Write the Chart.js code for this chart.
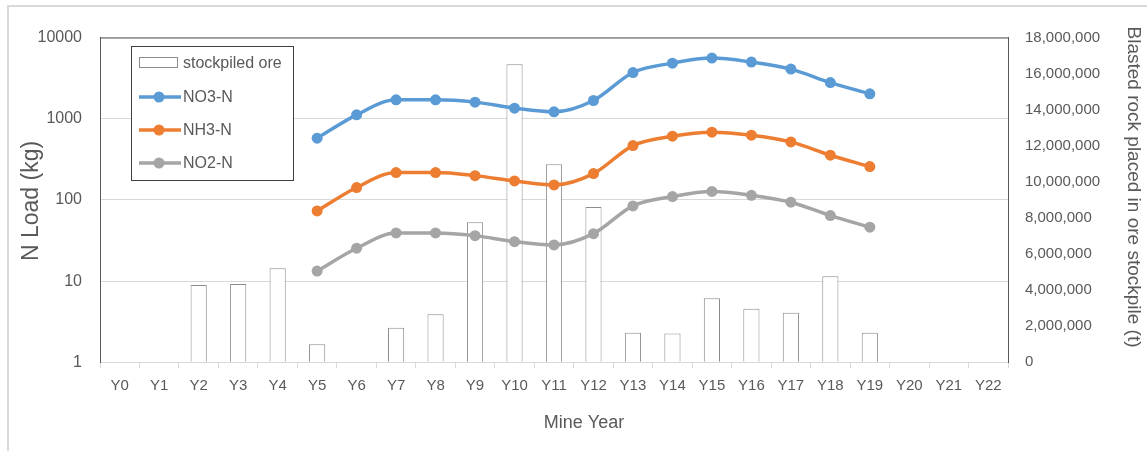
<!DOCTYPE html>
<html>
<head>
<meta charset="utf-8">
<script src="https://cdn.jsdelivr.net/npm/chart.js@4.4.1/dist/chart.umd.min.js"></script>
<style>
  html, body { margin: 0; padding: 0; background: #ffffff; }
  canvas { display: block; }
</style>
</head>
<body>
<canvas id="chart" width="1147" height="451"></canvas>
<script>
// Mine years along the x axis
const years = ['Y0','Y1','Y2','Y3','Y4','Y5','Y6','Y7','Y8','Y9','Y10','Y11',
               'Y12','Y13','Y14','Y15','Y16','Y17','Y18','Y19','Y20','Y21','Y22'];

// Blasted rock placed in the ore stockpile (t), right axis
const stockpiledOre = [null, null, 4290000, 4340000, 5210000, 1000000, null, 1920000,
                       2660000, 7760000, 16520000, 10980000, 8600000, 1640000, 1590000,
                       3550000, 2970000, 2750000, 4770000, 1640000, null, null, null];

// Nitrogen loads (kg), left log axis
const no3N = [null, null, null, null, null, 576, 1115, 1708, 1708, 1600, 1349, 1214,
              1675, 3705, 4835, 5573, 4977, 4079, 2786, 2025, null, null, null];
const nh3N = [null, null, null, null, null, 73.2, 142, 217, 217, 199, 171, 153,
              211, 467, 609, 683, 627, 518, 355, 257, null, null, null];
const no2N = [null, null, null, null, null, 13.3, 25.4, 39.2, 39.2, 36.3, 30.6, 27.9,
              38.4, 84.3, 110, 127, 114, 93.7, 64.1, 46.1, null, null, null];

// Tick values
const loadTicks = [1, 10, 100, 1000, 10000];
const tonnageMax = 18000000;
const tonnageStep = 2000000;

const FONT = "'Liberation Sans', Arial, sans-serif";
const TEXT = '#595959';
const GRID = '#d9d9d9';
const FRAME = '#595959';

// Page border, plot frame, axis titles and the boxed legend
const decorations = {
  id: 'decorations',
  beforeDraw(chart) {
    const ctx = chart.ctx;
    ctx.save();
    ctx.fillStyle = '#ffffff';
    ctx.fillRect(0, 0, chart.width, chart.height);
    ctx.fillStyle = GRID;
    ctx.fillRect(7, 5, chart.width - 7, 2);
    ctx.fillRect(7, 5, 2, chart.height - 5);
    ctx.restore();
  },
  afterDraw(chart) {
    const ctx = chart.ctx;
    const a = chart.chartArea;
    ctx.save();
    // top edge of the plot frame
    ctx.strokeStyle = FRAME;
    ctx.lineWidth = 1;
    ctx.beginPath();
    ctx.moveTo(a.left, a.top + 0.5);
    ctx.lineTo(a.right, a.top + 0.5);
    ctx.stroke();

    // axis titles
    ctx.fillStyle = TEXT;
    ctx.textAlign = 'center';
    ctx.textBaseline = 'middle';
    ctx.font = '18px ' + FONT;
    ctx.fillText('Mine Year', 584, 423);

    ctx.save();
    ctx.translate(32, 201);
    ctx.rotate(-Math.PI / 2);
    ctx.font = '23px ' + FONT;
    ctx.fillText('N Load (kg)', 0, 0);
    ctx.restore();

    ctx.save();
    ctx.translate(1133, 187);
    ctx.rotate(Math.PI / 2);
    ctx.font = '19px ' + FONT;
    ctx.fillText('Blasted rock placed in ore stockpile (t)', 0, 0);
    ctx.restore();

    // legend box
    const bx = 131.5, by = 46.5, bw = 162, bh = 134;
    ctx.fillStyle = '#ffffff';
    ctx.fillRect(bx, by, bw, bh);
    ctx.strokeStyle = '#404040';
    ctx.lineWidth = 1;
    ctx.strokeRect(bx, by, bw, bh);

    const rows = [63, 97, 130, 163];
    ctx.font = '16px ' + FONT;
    ctx.textAlign = 'left';
    chart.data.datasets.forEach((ds, i) => {
      const y = rows[i];
      if (ds.type === 'bar') {
        ctx.fillStyle = ds.backgroundColor;
        ctx.fillRect(139.5, y - 5, 38, 10);
        ctx.strokeStyle = ds.borderColor;
        ctx.lineWidth = 1;
        ctx.strokeRect(139.5, y - 5.5, 38, 10);
      } else {
        ctx.strokeStyle = ds.borderColor;
        ctx.lineWidth = ds.borderWidth;
        ctx.beginPath();
        ctx.moveTo(139, y);
        ctx.lineTo(181, y);
        ctx.stroke();
        ctx.fillStyle = ds.borderColor;
        ctx.beginPath();
        ctx.arc(159, y, ds.pointRadius, 0, Math.PI * 2);
        ctx.fill();
      }
      ctx.fillStyle = TEXT;
      ctx.fillText(ds.label, 183, y + 1);
    });
    ctx.restore();
  }
};

function lineSet(label, data, color) {
  return {
    type: 'line',
    label: label,
    data: data,
    yAxisID: 'y',
    borderColor: color,
    backgroundColor: color,
    borderWidth: 3.5,
    pointRadius: 5.5,
    pointHoverRadius: 5.5,
    pointBorderWidth: 0,
    cubicInterpolationMode: 'monotone',
    spanGaps: false,
    order: 1
  };
}

new Chart(document.getElementById('chart'), {
  type: 'bar',
  data: {
    labels: years,
    datasets: [
      {
        type: 'bar',
        label: 'stockpiled ore',
        data: stockpiledOre,
        yAxisID: 'y1',
        backgroundColor: '#ffffff',
        borderColor: '#8c8c8c',
        borderWidth: 1,
        barPercentage: 0.41,
        categoryPercentage: 1,
        order: 2
      },
      lineSet('NO3-N', no3N, '#5B9BD5'),
      lineSet('NH3-N', nh3N, '#ED7D31'),
      lineSet('NO2-N', no2N, '#A5A5A5')
    ]
  },
  options: {
    responsive: false,
    animation: false,
    devicePixelRatio: 1,
    layout: { padding: { top: 37.5, left: 0, right: 0, bottom: 0 } },
    plugins: {
      legend: { display: false },
      tooltip: { enabled: false }
    },
    scales: {
      x: {
        type: 'category',
        offset: true,
        grid: {
          offset: true,
          drawOnChartArea: false,
          drawTicks: true,
          tickLength: 6,
          color: GRID
        },
        border: { display: true, color: GRID, width: 1 },
        ticks: {
          color: TEXT,
          font: { family: FONT, size: 15 },
          padding: 9,
          maxRotation: 0,
          autoSkip: false
        },
        afterFit(scale) { scale.height = 88.7; }
      },
      y: {
        type: 'logarithmic',
        position: 'left',
        min: 1,
        max: 10000,
        afterBuildTicks(scale) {
          scale.ticks = loadTicks.map(v => ({ value: v }));
        },
        ticks: {
          color: TEXT,
          font: { family: FONT, size: 16 },
          padding: 18,
          callback: v => String(v)
        },
        grid: { color: GRID, lineWidth: 1, drawTicks: false },
        border: { display: true, color: FRAME, width: 1 },
        afterFit(scale) { scale.width = 100; }
      },
      y1: {
        type: 'linear',
        position: 'right',
        min: 0,
        max: tonnageMax,
        ticks: {
          stepSize: tonnageStep,
          color: TEXT,
          font: { family: FONT, size: 15 },
          padding: 17,
          callback: v => v.toLocaleString('en-US')
        },
        grid: { drawOnChartArea: false, drawTicks: false },
        border: { display: true, color: FRAME, width: 1 },
        afterFit(scale) { scale.width = 139; }
      }
    }
  },
  plugins: [decorations]
});
</script>
</body>
</html>
